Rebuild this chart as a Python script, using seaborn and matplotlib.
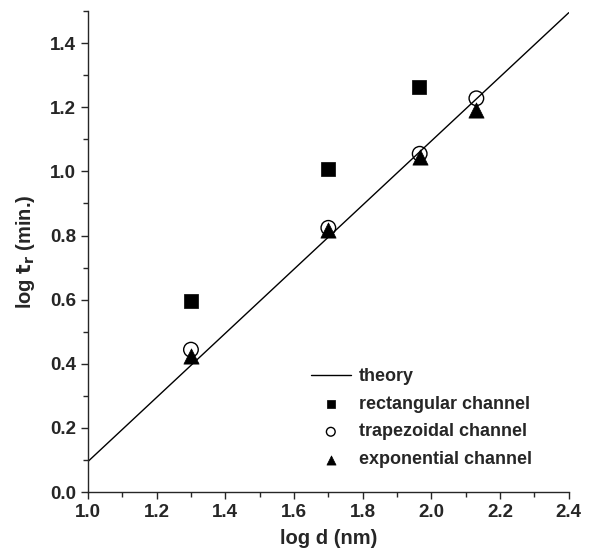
import numpy as np
import pandas as pd
import matplotlib
matplotlib.use("Agg")
import matplotlib.pyplot as plt
import seaborn as sns
from matplotlib.ticker import MultipleLocator

sns.set_style("ticks")
plt.rcParams['font.family'] = ['Liberation Sans', 'DejaVu Sans']

# theory line endpoints
theory_x = [1.0, 2.4]
theory_y = [0.095, 1.495]

rect_x = [1.30, 1.70, 1.965]
rect_y = [0.597, 1.006, 1.262]

trap_x = [1.30, 1.70, 1.966, 2.131]
trap_y = [0.444, 0.824, 1.055, 1.228]

expo_x = [1.30, 1.70, 1.966, 2.131]
expo_y = [0.425, 0.818, 1.045, 1.192]

fig = plt.figure(figsize=(5.9, 5.55), dpi=100)
ax = fig.add_axes([0.149, 0.1135, 0.815, 0.8665])

sns.lineplot(x=theory_x, y=theory_y, ax=ax, color='black', linewidth=1.0, label='theory')
sns.scatterplot(x=rect_x, y=rect_y, ax=ax, marker='s', s=95, color='black', edgecolor='black',
                linewidth=0.5, label='rectangular channel', zorder=3)
sns.scatterplot(x=trap_x, y=trap_y, ax=ax, marker='o', s=110, facecolor='none', edgecolor='black',
                linewidth=1.0, label='trapezoidal channel', zorder=3)
sns.scatterplot(x=expo_x, y=expo_y, ax=ax, marker='^', s=120, color='black', edgecolor='black',
                linewidth=0.5, label='exponential channel', zorder=4)

ax.set_xlim(1.0, 2.4)
ax.set_ylim(0.0, 1.5)
ax.xaxis.set_major_locator(MultipleLocator(0.2))
ax.xaxis.set_minor_locator(MultipleLocator(0.1))
ax.yaxis.set_major_locator(MultipleLocator(0.2))
ax.yaxis.set_minor_locator(MultipleLocator(0.1))
ax.set_xticks([1.0, 1.2, 1.4, 1.6, 1.8, 2.0, 2.2, 2.4])
ax.set_yticks([0.0, 0.2, 0.4, 0.6, 0.8, 1.0, 1.2, 1.4])
ax.set_xticklabels(['1.0', '1.2', '1.4', '1.6', '1.8', '2.0', '2.2', '2.4'])
ax.set_yticklabels(['0.0', '0.2', '0.4', '0.6', '0.8', '1.0', '1.2', '1.4'])
ax.tick_params(which='major', length=5, width=1.0, labelsize=13.5, direction='out')
ax.tick_params(which='minor', length=3.5, width=1.0, direction='out')
for lab in ax.get_xticklabels() + ax.get_yticklabels():
    lab.set_fontweight('bold')
for sp in ['left', 'bottom']:
    ax.spines[sp].set_linewidth(1.0)
sns.despine(ax=ax)

ax.set_xlabel('log d (nm)', fontsize=14.5, fontweight='bold', labelpad=6)
ax.set_ylabel(r'log $\mathbf{t_r}$ (min.)', fontsize=14.5, fontweight='bold', labelpad=9)

leg = ax.legend(loc='upper left', bbox_to_anchor=(0.43, 0.292), frameon=False,
                prop={'weight': 'bold', 'size': 13}, markerscale=0.6,
                handlelength=2.2, labelspacing=0.6, handletextpad=0.45)

fig.savefig('out.png', dpi=100)
